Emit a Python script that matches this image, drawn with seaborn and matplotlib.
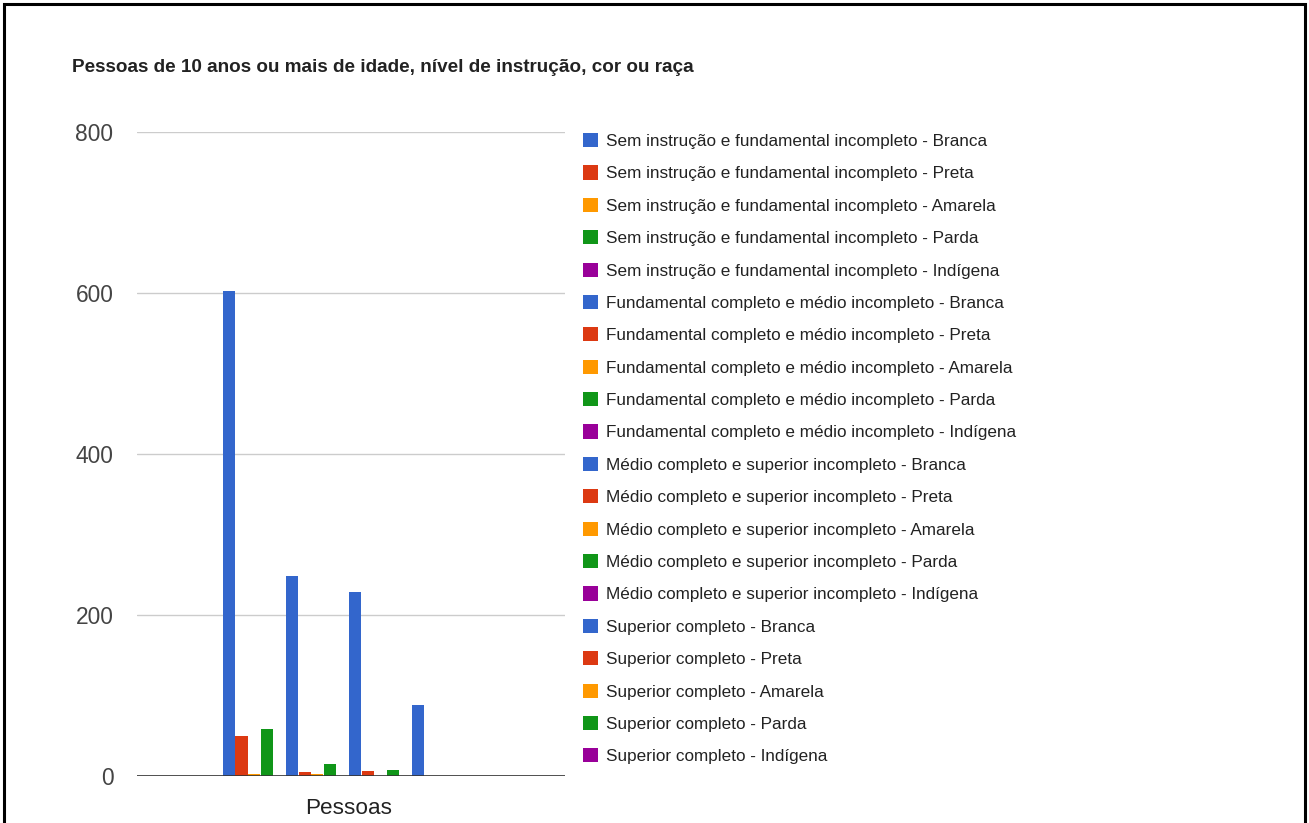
import matplotlib
matplotlib.use("Agg")
import matplotlib.pyplot as plt
import matplotlib.patches as mpatches
import seaborn as sns
import pandas as pd

# Education levels and race/colour groups
niveis = [
    "Sem instrução e fundamental incompleto",
    "Fundamental completo e médio incompleto",
    "Médio completo e superior incompleto",
    "Superior completo",
]
racas = ["Branca", "Preta", "Amarela", "Parda", "Indígena"]

# Values per education level, in the order of racas
sem_instrucao = [603, 50, 2, 58, 0]
fundamental_completo = [248, 4.5, 2, 14.5, 0]
medio_completo = [228, 6, 0, 8, 0]
superior_completo = [88, 0, 0, 0, 0]

categoria = "Pessoas"
cores_raca = ["#3366cc", "#dc3912", "#ff9900", "#109618", "#990099"]
y_ticks = [0, 200, 400, 600, 800]

valores = [sem_instrucao, fundamental_completo, medio_completo, superior_completo]
series, vals, cores = [], [], []
for nivel, linha in zip(niveis, valores):
    for raca, v, c in zip(racas, linha, cores_raca):
        series.append(f"{nivel} - {raca}")
        vals.append(v)
        cores.append(c)

df = pd.DataFrame({"categoria": categoria, "serie": series, "valor": vals})

sns.set_theme(style="white")
plt.rcParams["font.family"] = ["Liberation Sans", "DejaVu Sans"]

W, H = 1309, 823
fig = plt.figure(figsize=(W / 100, H / 100), dpi=100)
ax = fig.add_axes([137 / W, 1 - 776 / H, (565 - 137) / W, (776 - 132) / H])

sns.barplot(data=df, x="categoria", y="valor", hue="serie",
            hue_order=series, palette=cores, width=0.59, gap=0.04,
            saturation=1, linewidth=0, ax=ax, legend=False, errorbar=None)

ax.set_ylim(0, 800)
ax.set_xlim(-0.495, 0.505)
ax.set_yticks(y_ticks)
ax.set_yticklabels([str(t) for t in y_ticks])
ax.tick_params(axis="y", length=0, pad=17, labelsize=16.4, labelcolor="#444444")
ax.tick_params(axis="x", length=0, pad=16, labelsize=16.2, labelcolor="#222222")
ax.set_xlabel("")
ax.set_ylabel("")
for s in ax.spines.values():
    s.set_visible(False)
ax.yaxis.grid(True, color="#cccccc", linewidth=1)
ax.set_axisbelow(True)
ax.axhline(0, color="#333333", linewidth=1.2, zorder=5)

fig.text(72 / W, 1 - 67 / H, "Pessoas de 10 anos ou mais de idade, nível de instrução, cor ou raça",
         fontsize=13.6, fontweight="bold", color="#222222", va="center", ha="left")

handles = [mpatches.Patch(facecolor=c, edgecolor="none") for c in cores]
fig.legend(handles, series, loc="upper left", bbox_to_anchor=(583 / W, 1 - 133 / H),
           frameon=False, fontsize=12.3, handlelength=0.9, handleheight=0.9,
           handletextpad=0.47, labelspacing=0.96, borderaxespad=0, borderpad=0,
           labelcolor="#222222")

fig.patches.append(mpatches.Rectangle((4 / W, -0.01), (1305 - 4) / W, 1 - 4 / H + 0.01,
                                      transform=fig.transFigure, fill=False,
                                      edgecolor="black", linewidth=2.2))

fig.savefig("out.png", dpi=100)
